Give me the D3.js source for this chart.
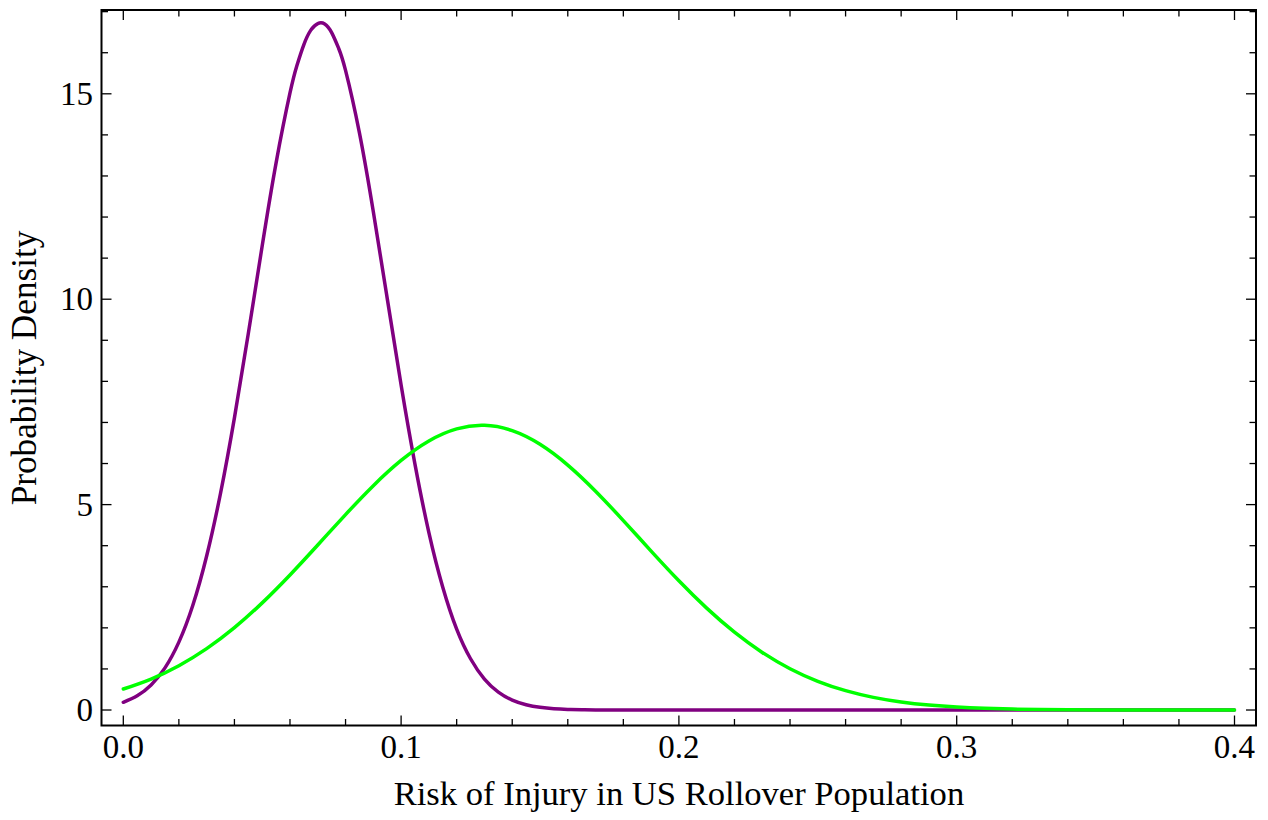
<!DOCTYPE html>
<html>
<head>
<meta charset="utf-8">
<script src="https://cdn.jsdelivr.net/npm/d3@7"></script>
<style>
  html, body { margin: 0; padding: 0; background: #fff; }
  svg { display: block; }
  text { font-family: "Liberation Serif", "Times New Roman", serif; fill: #000; }
</style>
</head>
<body>
<svg id="chart" width="1268" height="820"></svg>
<script>
// ---- data ----
const purpleX = [0, 0.005, 0.01, 0.015, 0.02, 0.025, 0.03, 0.035, 0.04, 0.045, 0.05, 0.055, 0.06, 0.0625, 0.065, 0.0675, 0.07, 0.0725, 0.075, 0.0775, 0.08, 0.085, 0.09, 0.095, 0.1, 0.105, 0.11, 0.115, 0.12, 0.125, 0.13, 0.135, 0.14, 0.145, 0.15, 0.155, 0.16, 0.165, 0.17, 0.175, 0.18, 0.19, 0.2, 0.25, 0.3, 0.35, 0.4];
const purpleY = [0.188, 0.346, 0.61, 1.026, 1.652, 2.543, 3.748, 5.277, 7.112, 9.166, 11.3, 13.32, 15.02, 15.69, 16.2, 16.55, 16.71, 16.7, 16.49, 16.11, 15.57, 14.05, 12.13, 10.02, 7.91, 5.98, 4.32, 2.99, 1.97, 1.248, 0.754, 0.436, 0.241, 0.128, 0.065, 0.031, 0.0145, 0.006, 0.0025, 0.001, 0.0004, 0.0001, 0, 0, 0, 0, 0];

const greenX = [0, 0.01, 0.02, 0.03, 0.04, 0.05, 0.06, 0.07, 0.08, 0.09, 0.1, 0.11, 0.12, 0.13, 0.14, 0.15, 0.16, 0.17, 0.18, 0.19, 0.2, 0.21, 0.22, 0.23, 0.24, 0.25, 0.26, 0.27, 0.28, 0.29, 0.3, 0.31, 0.32, 0.33, 0.34, 0.35, 0.36, 0.37, 0.38, 0.39, 0.4];
const greenY = [0.511, 0.754, 1.078, 1.493, 2.004, 2.608, 3.288, 4.017, 4.757, 5.461, 6.075, 6.549, 6.843, 6.929, 6.8, 6.468, 5.962, 5.326, 4.611, 3.869, 3.146, 2.48, 1.894, 1.402, 1.006, 0.699, 0.471, 0.308, 0.195, 0.12, 0.071, 0.041, 0.023, 0.012, 0.006, 0.003, 0.0015, 0.0007, 0.0003, 0.0001, 0];

const xMajorTicks = [0, 0.1, 0.2, 0.3, 0.4];
const xTickLabels = ["0.0", "0.1", "0.2", "0.3", "0.4"];
const xMinorTicks = [0.02, 0.04, 0.06, 0.08, 0.12, 0.14, 0.16, 0.18, 0.22, 0.24, 0.26, 0.28, 0.32, 0.34, 0.36, 0.38];
const yMajorTicks = [0, 5, 10, 15];
const yTickLabels = ["0", "5", "10", "15"];
const yMinorTicks = [1, 2, 3, 4, 6, 7, 8, 9, 11, 12, 13, 14, 16, 17];

const xTitle = "Risk of Injury in US Rollover Population";
const yTitle = "Probability Density";

// ---- layout ----
const frame = { left: 101.5, right: 1256, top: 10, bottom: 725.5 };
const x = d3.scaleLinear().domain([-0.00785, 0.40774]).range([frame.left, frame.right]);
const y = d3.scaleLinear().domain([-0.377, 17.04]).range([frame.bottom, frame.top]);

const svg = d3.select("#chart");

// clip for curves
svg.append("defs").append("clipPath").attr("id", "clip")
  .append("rect").attr("x", frame.left).attr("y", frame.top)
  .attr("width", frame.right - frame.left).attr("height", frame.bottom - frame.top);

const line = d3.line().x(d => x(d[0])).y(d => y(d[1])).curve(d3.curveNatural);

const curves = svg.append("g").attr("clip-path", "url(#clip)");
curves.append("path")
  .datum(purpleX.map((v, i) => [v, purpleY[i]]))
  .attr("d", line).attr("fill", "none")
  .attr("stroke", "#800080").attr("stroke-width", 3.5)
  .attr("stroke-linejoin", "round").attr("stroke-linecap", "round");
curves.append("path")
  .datum(greenX.map((v, i) => [v, greenY[i]]))
  .attr("d", line).attr("fill", "none")
  .attr("stroke", "#00ff00").attr("stroke-width", 3.5)
  .attr("stroke-linejoin", "round").attr("stroke-linecap", "round");

// ---- ticks (inward on all four sides) ----
const majorLen = 10, minorLen = 6.5;
const tickG = svg.append("g").attr("stroke", "#000").attr("stroke-width", 1.3);
function xTicks(vals, len) {
  vals.forEach(v => {
    tickG.append("line").attr("x1", x(v)).attr("x2", x(v))
      .attr("y1", frame.bottom).attr("y2", frame.bottom - len);
    tickG.append("line").attr("x1", x(v)).attr("x2", x(v))
      .attr("y1", frame.top).attr("y2", frame.top + len);
  });
}
function yTicks(vals, len) {
  vals.forEach(v => {
    tickG.append("line").attr("y1", y(v)).attr("y2", y(v))
      .attr("x1", frame.left).attr("x2", frame.left + len);
    tickG.append("line").attr("y1", y(v)).attr("y2", y(v))
      .attr("x1", frame.right).attr("x2", frame.right - len);
  });
}
xTicks(xMajorTicks, majorLen);
xTicks(xMinorTicks, minorLen);
yTicks(yMajorTicks, majorLen);
yTicks(yMinorTicks, minorLen);

// frame
svg.append("rect")
  .attr("x", frame.left).attr("y", frame.top)
  .attr("width", frame.right - frame.left).attr("height", frame.bottom - frame.top)
  .attr("fill", "none").attr("stroke", "#000").attr("stroke-width", 2);

// tick labels
svg.append("g").selectAll("text").data(xMajorTicks).join("text")
  .attr("x", d => x(d)).attr("y", 758)
  .attr("text-anchor", "middle").attr("font-size", 33)
  .text((d, i) => xTickLabels[i]);
svg.append("g").selectAll("text").data(yMajorTicks).join("text")
  .attr("x", 93).attr("y", d => y(d)).attr("dy", "0.34em")
  .attr("text-anchor", "end").attr("font-size", 33)
  .text((d, i) => yTickLabels[i]);

// axis titles
svg.append("text")
  .attr("x", (x(0) + x(0.4)) / 2).attr("y", 805)
  .attr("text-anchor", "middle").attr("font-size", 34.6)
  .text(xTitle);
svg.append("text")
  .attr("transform", "translate(36," + 368 + ") rotate(-90)")
  .attr("text-anchor", "middle").attr("font-size", 35.2)
  .text(yTitle);
</script>
</body>
</html>
